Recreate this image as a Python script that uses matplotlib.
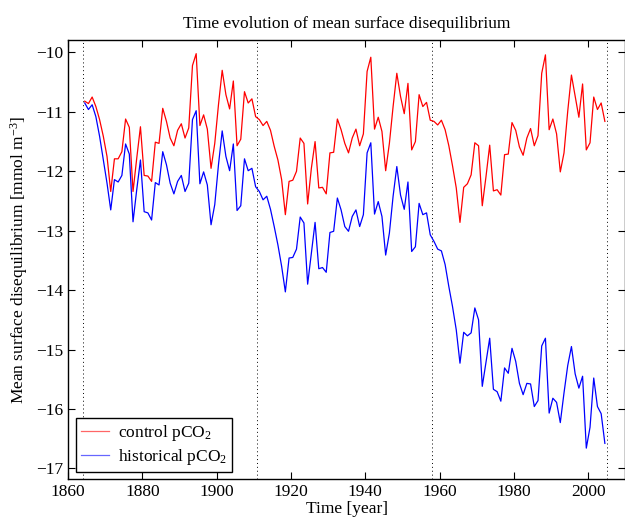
#!/usr/bin/env python3
"""
Time evolution of mean surface disequilibrium
Control vs historical pCO2 runs (three 47-year forcing cycles)
"""

import numpy as np
import matplotlib
matplotlib.use('Agg')
import matplotlib.pyplot as plt

# annual means, first value is year 1864 (plotted mid-year)
first_year = 1864
cycle_starts = [1864, 1911, 1958, 2005]

control = [
    -10.82, -10.86, -10.75, -10.91, -11.13, -11.41, -11.75, -12.34, -11.79, -11.79,
    -11.67, -11.12, -11.26, -12.34, -11.78, -11.25, -12.07, -12.08, -12.17, -11.51,
    -11.53, -10.94, -11.16, -11.44, -11.57, -11.31, -11.20, -11.44, -11.27, -10.22,
    -10.02, -11.23, -11.05, -11.29, -11.95, -11.53, -10.88, -10.30, -10.71, -10.95,
    -10.48, -11.57, -11.46, -10.66, -10.85, -10.78, -11.08, -11.13, -11.23, -11.16,
    -11.31, -11.58, -11.81, -12.14, -12.73, -12.17, -12.15, -12.00, -11.44, -11.53,
    -12.55, -11.95, -11.50, -12.28, -12.27, -12.38, -11.69, -11.68, -11.12, -11.30,
    -11.53, -11.69, -11.44, -11.29, -11.57, -11.37, -10.32, -10.08, -11.29, -11.09,
    -11.33, -11.99, -11.53, -10.91, -10.35, -10.74, -11.03, -10.52, -11.64, -11.50,
    -10.71, -10.91, -10.84, -11.14, -11.16, -11.22, -11.14, -11.30, -11.57, -11.91,
    -12.28, -12.86, -12.27, -12.21, -12.06, -11.52, -11.57, -12.58, -12.09, -11.56,
    -12.33, -12.31, -12.40, -11.72, -11.71, -11.18, -11.31, -11.59, -11.73, -11.44,
    -11.28, -11.57, -11.40, -10.35, -10.04, -11.30, -11.12, -11.37, -12.01, -11.69,
    -10.99, -10.38, -10.74, -11.09, -10.53, -11.64, -11.52, -10.75, -10.96, -10.85,
    -11.16,
]

historical = [
    -10.85, -10.96, -10.88, -11.08, -11.41, -11.81, -12.20, -12.65, -12.14, -12.18,
    -12.07, -11.54, -11.71, -12.85, -12.31, -11.81, -12.68, -12.70, -12.82, -12.19,
    -12.23, -11.67, -11.89, -12.20, -12.38, -12.17, -12.07, -12.34, -12.20, -11.13,
    -10.98, -12.21, -12.01, -12.23, -12.90, -12.56, -11.89, -11.32, -11.75, -11.99,
    -11.54, -12.66, -12.58, -11.79, -11.99, -11.95, -12.26, -12.34, -12.48, -12.42,
    -12.64, -12.93, -13.24, -13.60, -14.03, -13.46, -13.45, -13.31, -12.77, -12.87,
    -13.90, -13.38, -12.86, -13.64, -13.62, -13.70, -13.03, -13.01, -12.45, -12.65,
    -12.93, -13.01, -12.76, -12.65, -12.93, -12.73, -11.69, -11.52, -12.72, -12.51,
    -12.76, -13.41, -13.04, -12.42, -11.92, -12.40, -12.64, -12.18, -13.35, -13.27,
    -12.54, -12.73, -12.70, -13.07, -13.18, -13.31, -13.34, -13.57, -13.94, -14.28,
    -14.67, -15.23, -14.71, -14.77, -14.72, -14.30, -14.50, -15.62, -15.22, -14.81,
    -15.67, -15.71, -15.87, -15.31, -15.40, -14.98, -15.20, -15.57, -15.76, -15.57,
    -15.58, -15.96, -15.86, -14.94, -14.81, -16.07, -15.82, -15.89, -16.23, -15.73,
    -15.27, -14.95, -15.41, -15.65, -15.45, -16.66, -16.31, -15.48, -15.96, -16.08,
    -16.58,
]

years = first_year + np.arange(len(control)) + 0.5

plt.rcParams['font.family'] = ['Liberation Serif', 'DejaVu Serif']
plt.rcParams['mathtext.fontset'] = 'custom'
plt.rcParams['mathtext.rm'] = 'Liberation Serif'
plt.rcParams['mathtext.default'] = 'rm'
plt.rcParams['font.size'] = 12.5

fig = plt.figure(figsize=(6.25, 5.23), dpi=100)
ax = fig.add_axes([0.1088, 0.0841, 0.8917, 0.8394])

# cycle boundaries
for yr in cycle_starts:
    ax.axvline(yr, color='k', linestyle=(0, (1, 3)), linewidth=0.7)

ax.plot(years, control, color='red', linewidth=0.9, label='control pCO$_2$')
ax.plot(years, historical, color='blue', linewidth=0.9, label='historical pCO$_2$')

ax.set_xlim(1860, 2010)
ax.set_ylim(-17.18, -9.79)
ax.set_xticks(np.arange(1860, 2001, 20))
ax.set_yticks(np.arange(-17, -9, 1))

ax.tick_params(direction='in', top=True, right=True, length=5, width=0.8)
for s in ax.spines.values():
    s.set_linewidth(1.0)

ax.set_title('Time evolution of mean surface disequilibrium', fontsize=12.5, pad=9)
ax.set_xlabel('Time [year]', labelpad=1)
ax.set_ylabel('Mean surface disequilibrium [mmol m$^{-3}$]', labelpad=4)

leg = ax.legend(loc='lower left', bbox_to_anchor=(0.0144, 0.016), borderaxespad=0,
                fancybox=False, edgecolor='k', framealpha=1,
                handlelength=1.6, handletextpad=0.5, borderpad=0.3, labelspacing=0.2)
leg.get_frame().set_linewidth(1.0)
for line in leg.get_lines():
    line.set_alpha(0.6)

fig.savefig('out.png', dpi=100)
